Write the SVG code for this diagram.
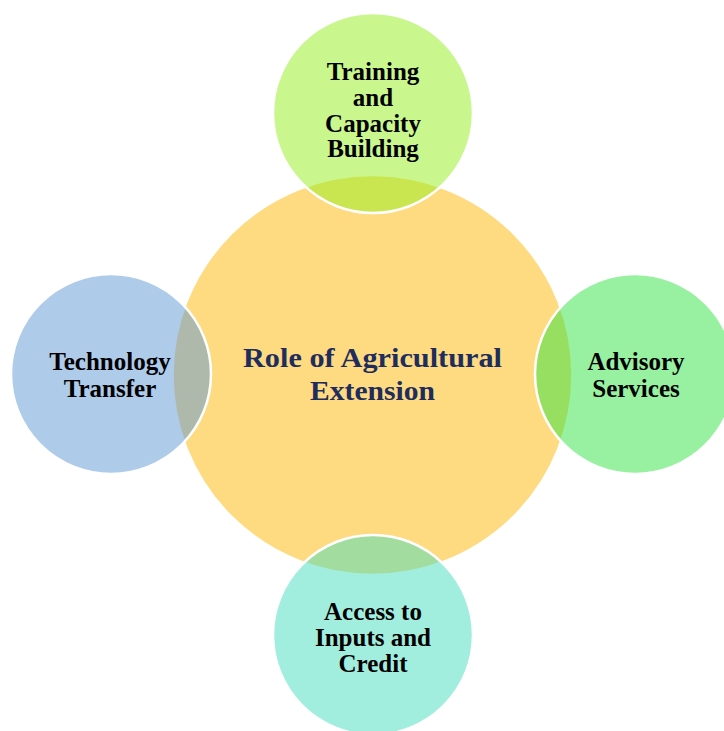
<svg xmlns="http://www.w3.org/2000/svg" width="724" height="731" viewBox="0 0 724 731">
<style>
.bg{fill:#ffffff}
.center{fill:#fedb80;stroke:#ffffff;stroke-width:2.5}
.sat{stroke:#ffffff;stroke-width:2.5;fill-opacity:0.5}
.t{font-family:"Liberation Serif","Times New Roman",serif;font-weight:bold;font-size:25px;fill:#000000;text-anchor:middle}
.tc{font-family:"Liberation Serif","Times New Roman",serif;font-weight:bold;font-size:27px;fill:#1f2d5e;text-anchor:middle}
</style>
<rect class="bg" x="0" y="0" width="724" height="731"/>
<g id="center">
<circle class="center" cx="372.5" cy="375" r="200"/>
<text class="tc" x="372.5" y="367" textLength="259" lengthAdjust="spacingAndGlyphs">Role of Agricultural</text>
<text class="tc" x="372.5" y="400" textLength="125" lengthAdjust="spacingAndGlyphs">Extension</text>
</g>
<g id="connectors"></g>
<g id="training">
<circle class="sat" cx="373" cy="113" r="100" fill="#93ef1d"/>
<text class="t" x="373" y="80">Training</text>
<text class="t" x="373" y="106">and</text>
<text class="t" x="373" y="132">Capacity</text>
<text class="t" x="373" y="157">Building</text>
</g>
<g id="technology">
<circle class="sat" cx="111" cy="374" r="100" fill="#5d97d5"/>
<text class="t" x="110" y="370">Technology</text>
<text class="t" x="110" y="397">Transfer</text>
</g>
<g id="advisory">
<circle class="sat" cx="635" cy="374" r="100" fill="#2fe341"/>
<text class="t" x="636" y="370">Advisory</text>
<text class="t" x="636" y="397">Services</text>
</g>
<g id="access">
<circle class="sat" cx="373" cy="635" r="100" fill="#45ddbd"/>
<text class="t" x="373" y="620">Access to</text>
<text class="t" x="373" y="646">Inputs and</text>
<text class="t" x="373" y="672">Credit</text>
</g>
</svg>
